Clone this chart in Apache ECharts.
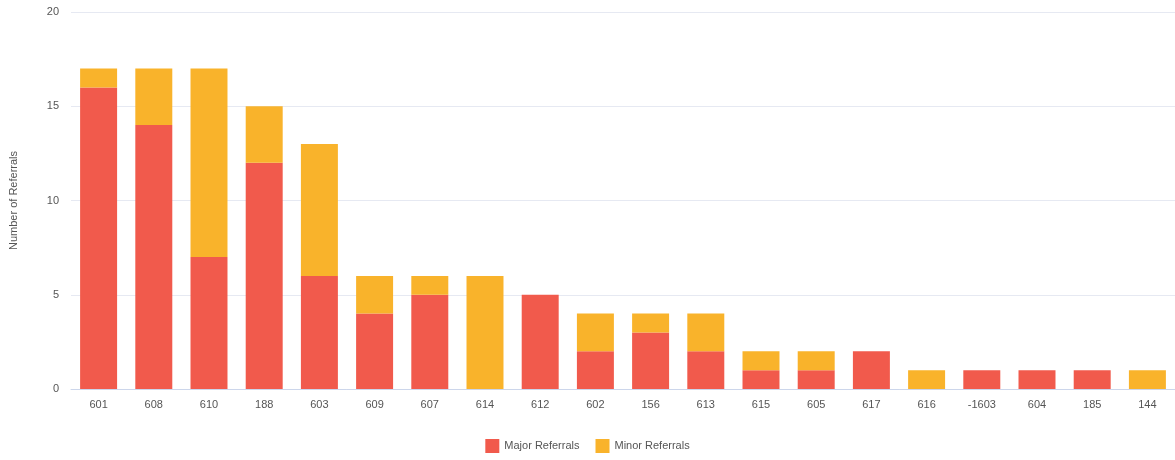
<!DOCTYPE html>
<html>
<head>
<meta charset="utf-8">
<script src="https://cdn.jsdelivr.net/npm/echarts@6/dist/echarts.min.js"></script>
<style>html,body{margin:0;padding:0;background:#fff;}#c{width:1175px;height:460px;}</style>
</head>
<body>
<div id="c"></div>
<script>
const categories = ['601','608','610','188','603','609','607','614','612','602','156','613','615','605','617','616','-1603','604','185','144'];
const majorReferrals = [16,14,7,12,6,4,5,0,5,2,3,2,1,1,2,0,1,1,1,0];
const minorReferrals = [1,3,10,3,7,2,1,6,0,2,1,2,1,1,0,1,0,0,0,1];
const yTicks = {min:0, max:20, interval:5};

const chart = echarts.init(document.getElementById('c'));
chart.setOption({
  animation:false,
  textStyle:{fontFamily:'"Liberation Sans", Arial, sans-serif'},
  grid:{left:68, right:-2, top:12, bottom:71},
  legend:{
    bottom:2, left:'center', itemWidth:14, itemHeight:14, itemGap:16,
    icon:'rect',
    textStyle:{color:'#555', fontSize:11},
    data:['Major Referrals','Minor Referrals']
  },
  xAxis:{
    type:'category', data:categories,
    axisLine:{lineStyle:{color:'#ccd6eb'}},
    axisTick:{show:false},
    axisLabel:{color:'#555', fontSize:11, margin:10}
  },
  yAxis:{
    type:'value', min:yTicks.min, max:yTicks.max, interval:yTicks.interval,
    name:'Number of Referrals', nameLocation:'middle', nameGap:52,
    nameTextStyle:{color:'#555', fontSize:11},
    axisLine:{show:false}, axisTick:{show:false},
    axisLabel:{color:'#555', fontSize:11, margin:12},
    splitLine:{lineStyle:{color:'#e6e9f2'}}
  },
  series:[
    {name:'Major Referrals', type:'bar', stack:'r', data:majorReferrals, barCategoryGap:'33%',
     itemStyle:{color:'#F15A4C'}},
    {name:'Minor Referrals', type:'bar', stack:'r', data:minorReferrals, barCategoryGap:'33%',
     itemStyle:{color:'#F9B32B'}}
  ]
});
</script>
</body>
</html>
